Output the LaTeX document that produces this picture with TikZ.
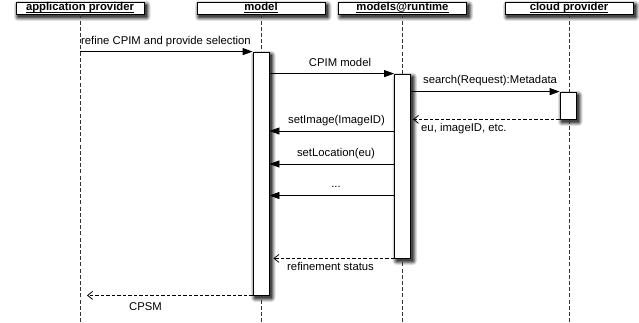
\documentclass[tikz,border=0pt]{standalone}
\usepackage{fontspec}
\setmainfont{Liberation Sans}
\usetikzlibrary{arrows.meta}

% underline at a fixed distance below the baseline, ignoring descenders
\newcommand{\hdul}[1]{\underline{\smash{#1}}}

\tikzset{
  head/.style={draw, line width=0.8pt, fill=white, minimum width=128pt, minimum height=12pt,
    inner sep=0pt, text height=8.5pt, text depth=2.5pt,
    font=\fontsize{11.3}{12}\selectfont\bfseries},
  life/.style={line width=0.7pt, dash pattern=on 4pt off 2.2pt, black!80},
  bar/.style={draw, line width=0.8pt, fill=white, minimum width=16pt, inner sep=0pt},
  msg/.style={line width=0.8pt, -{Triangle[length=10pt,width=7pt]}},
  ret/.style={line width=0.8pt, dash pattern=on 3.5pt off 2pt, -{Straight Barb[length=5pt,width=8pt,line width=0.8pt]}},
  lbl/.style={font=\fontsize{11.3}{12}\selectfont, inner sep=0pt},
}

\begin{document}
\begin{tikzpicture}[x=1pt, y=-1pt]
\useasboundingbox (0,0) rectangle (639,323);

% soft drop shadows of the header boxes and activation bars:
% nested grey rounded rectangles, light outside, dark inside
\foreach \xa/\ya/\xb/\yb in {16/2/144/14, 197/2/325/14, 338.5/2/466.5/14, 505/2/633/14,
                             253/52/269/295, 394.5/74/410.5/258, 560/92/576/119}
  \foreach \k/\g in {4/12,3/25,2/42,1/60,0/72}
    \fill[black!\g, rounded corners=\k pt]
      (\xa+2-\k,\ya+3-\k) rectangle (\xb+2.5+\k,\yb+3+\k);

% participants
\node[head] (ap) at (80,8)    {\hdul{application provider}};
\node[head] (md) at (261,8)   {\hdul{model}};
\node[head] (mr) at (402.5,8) {\hdul{models@runtime}};
\node[head] (cp) at (569,8)   {\hdul{cloud provider}};

% lifelines
\coordinate (bottom) at (0,323);
\foreach \p in {ap,md,mr,cp}
  \draw[life] (\p.south) -- (\p.south |- bottom);

% activation bars
\node[bar, minimum height=243pt] (mb) at (261,173.5) {};
\node[bar, minimum height=184pt] (rb) at (402.5,166) {};
\node[bar, minimum height=27pt]  (cb) at (568,105.5) {};

% message levels
\coordinate (y1) at (0,131);
\coordinate (y2) at (0,164);
\coordinate (y3) at (0,195.5);

% messages
\draw[msg] (ap.south |- mb.north) -- (mb.north west);
\node[lbl, anchor=base west] (l1) at (81,45) {refine CPIM and provide selection};

\draw[msg] (mb.east |- rb.north) -- (rb.north west);
\node[lbl, anchor=base] (l2) at (340,67) {CPIM model};

\draw[msg] (rb.east |- cb.north) -- (cb.north west);
\node[lbl, anchor=base west] (l3) at (423,84) {search(Request):Metadata};

\draw[ret, shorten >=2pt] (cb.south west) -- (rb.east |- cb.south);
\node[lbl, anchor=base west] (l4) at (421,132) {eu, imageID, etc.};

\draw[msg] (rb.west |- y1) -- (mb.east |- y1);
\node[lbl, anchor=base] (l5) at (336.5,124) {setImage(ImageID)};

\draw[msg] (rb.west |- y2) -- (mb.east |- y2);
\node[lbl, anchor=base] (l6) at (336,156.7) {setLocation(eu)};

\draw[msg] (rb.west |- y3) -- (mb.east |- y3);
\node[lbl, anchor=base] (l7) at (336,187.7) {...};

\draw[ret, shorten >=4pt] (rb.south west) -- (mb.east |- rb.south);
\node[lbl, anchor=base west] (l8) at (287,270) {refinement status};

\draw[ret, shorten >=7pt] (mb.south west) -- (ap.south |- mb.south);
\node[lbl, anchor=base west] (l9) at (129,310.7) {CPSM};
\end{tikzpicture}
\end{document}
